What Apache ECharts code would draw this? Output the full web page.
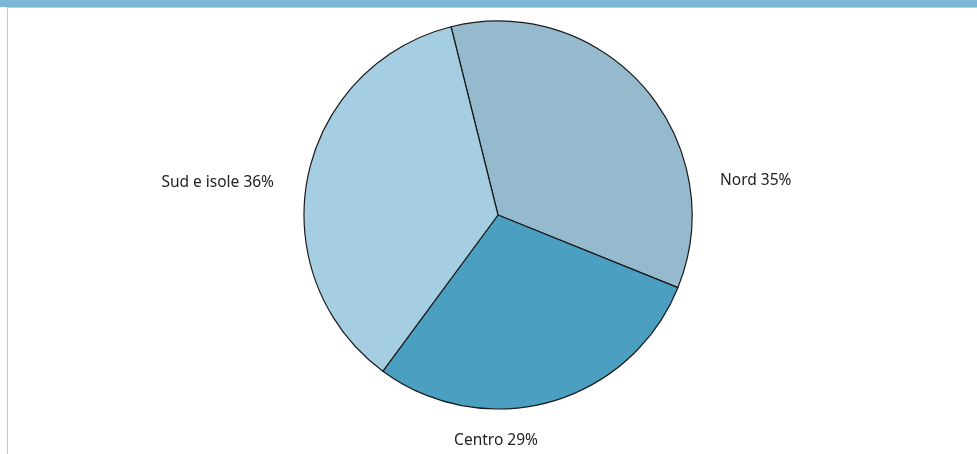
<!DOCTYPE html>
<html>
<head>
<meta charset="utf-8">
<script src="https://cdn.jsdelivr.net/npm/echarts@6/dist/echarts.min.js"></script>
<style>
html, body { margin: 0; padding: 0; background: #ffffff; }
#chart { width: 977px; height: 454px; }
</style>
</head>
<body>
<div id="chart"></div>
<script>
// dati della torta
var areas = ['Nord', 'Centro', 'Sud e isole'];
var shares = [35, 29, 36];
var sliceColors = ['#96bacd', '#4b9fc1', '#a6cee2'];

// posizione delle etichette (come nel grafico originale)
var labelPos = [
    { x: 720, y: 181, align: 'left' },
    { x: 496, y: 441, align: 'center' },
    { x: 274, y: 183, align: 'right' }
];

var myChart = echarts.init(document.getElementById('chart'));

var option = {
    backgroundColor: '#ffffff',
    animation: false,
    graphic: [
        // barra del titolo in alto
        { type: 'rect', shape: { x: 0, y: 0, width: 977, height: 7 }, style: { fill: '#7db7d4' } },
        { type: 'line', shape: { x1: 7, y1: 7.5, x2: 977, y2: 7.5 }, style: { stroke: '#c8c8c8', lineWidth: 1 } },
        // bordo a sinistra
        { type: 'line', shape: { x1: 7.5, y1: 7, x2: 7.5, y2: 454 }, style: { stroke: '#c8c8c8', lineWidth: 1 } }
    ],
    series: [
        {
            type: 'pie',
            center: [498, 215],
            radius: 194,
            startAngle: 104,
            clockwise: true,
            data: areas.map(function (name, i) {
                return { name: name, value: shares[i], itemStyle: { color: sliceColors[i] } };
            }),
            itemStyle: {
                borderColor: '#1a1a1a',
                borderWidth: 1.2
            },
            label: {
                show: true,
                formatter: '{b} {c}%',
                fontFamily: 'Noto Sans',
                fontSize: 15.5,
                color: '#222222'
            },
            labelLine: { show: false },
            labelLayout: function (params) {
                var p = labelPos[params.dataIndex];
                return { x: p.x, y: p.y, align: p.align, verticalAlign: 'middle' };
            },
            emphasis: { disabled: true }
        }
    ]
};

myChart.setOption(option);
</script>
</body>
</html>
